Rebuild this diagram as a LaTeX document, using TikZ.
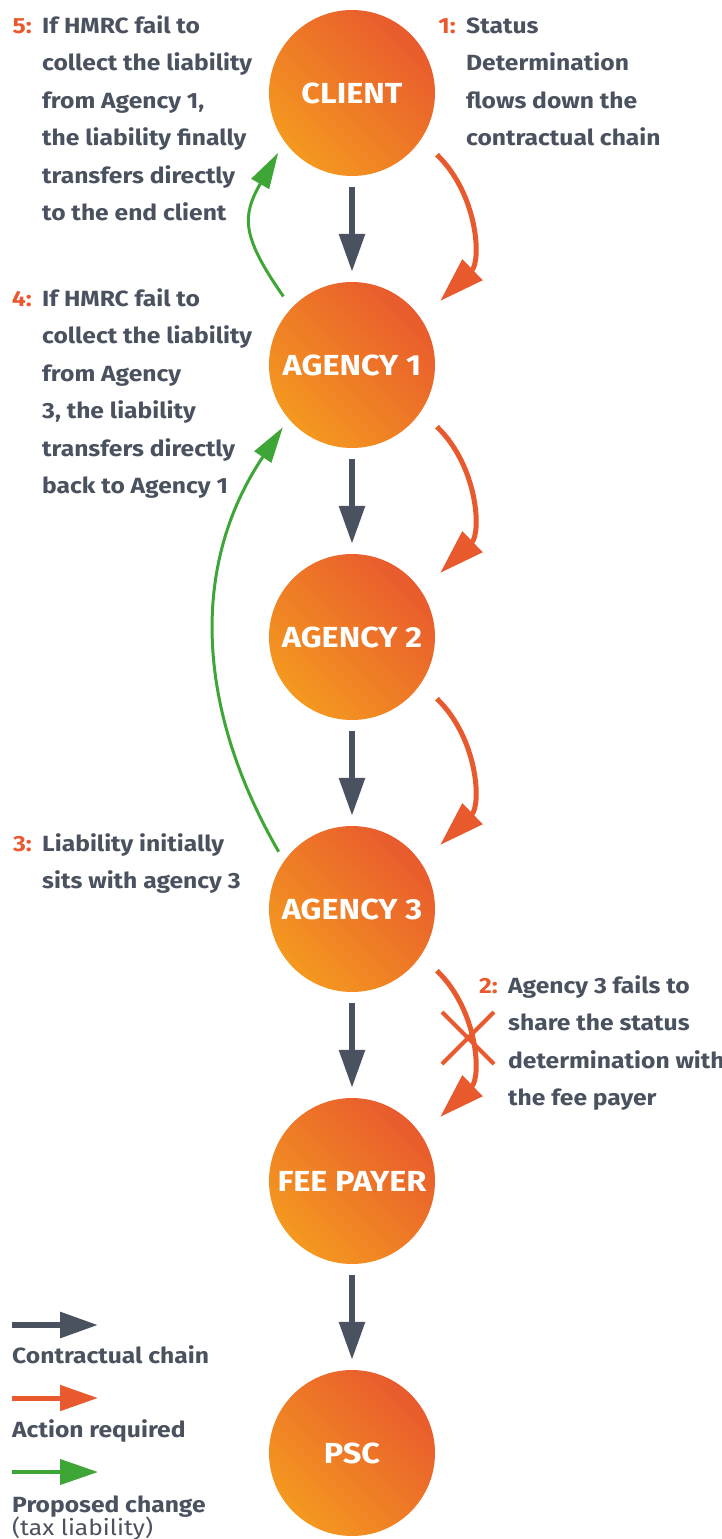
\documentclass[tikz,border=0pt]{standalone}
\usepackage{fontspec}
\setmainfont{Fira Sans}[FakeStretch=1.12]
\usetikzlibrary{arrows.meta,calc,shapes.misc}
\definecolor{hmorange}{RGB}{232,90,45}
\definecolor{hmyellow}{RGB}{244,152,32}
\definecolor{hmgrey}{RGB}{75,82,95}
\definecolor{hmgreen}{RGB}{62,165,55}

\begin{document}
\begin{tikzpicture}[x=1pt,y=1pt,
  party/.style={circle, minimum size=166pt, inner sep=0pt, left color=hmyellow, right color=hmorange, shading angle=135, text=white, font=\fontsize{29}{30}\selectfont\bfseries},
  chain/.style={draw=hmgrey, line width=6pt, -{Triangle[length=38pt,width=25pt]}, shorten <=11pt, shorten >=10pt},
  action/.style={draw=hmorange, line width=5pt, -{Triangle[length=45pt,width=28pt]}},
  liability/.style={draw=hmgreen, line width=3pt, -{Triangle[length=36pt,width=20pt]}},
  keyarrow/.style={-{Triangle[length=38pt,width=25pt]}},
  note/.style={anchor=north west, inner sep=0pt, align=left, text=hmgrey, font=\fontsize{22}{37.5}\selectfont\bfseries},
  notenum/.style={anchor=north east, inner sep=0pt, xshift=-10pt, text=hmorange, font=\fontsize{22}{37.5}\selectfont\bfseries},
  keytext/.style={anchor=base west, inner sep=0pt, text=hmgrey, font=\fontsize{22}{26}\selectfont\bfseries}
]
\useasboundingbox (0,0) rectangle (722,-1539);

% Parties in the chain
\node[party] (client) at (352,-93) {CLIENT};
\node[party] (agency1) at (352,-365) {AGENCY 1};
\node[party] (agency2) at (352,-637) {AGENCY 2};
\node[party] (agency3) at (352,-909) {AGENCY 3};
\node[party] (feepayer) at (352,-1181) {FEE PAYER};
\node[party] (psc) at (352,-1453) {PSC};

% Contractual chain
\draw[chain] (client) -- (agency1);
\draw[chain] (agency1) -- (agency2);
\draw[chain] (agency2) -- (agency3);
\draw[chain] (agency3) -- (feepayer);
\draw[chain] (feepayer) -- (psc);

% Status determination passed down
\draw[action] ($(client)+(-36:105)$) to[out=-44,in=44] ($(agency1)+(36:109)$);
\draw[action] ($(agency1)+(-36:105)$) to[out=-44,in=44] ($(agency2)+(36:109)$);
\draw[action] ($(agency2)+(-36:105)$) to[out=-44,in=44] ($(agency3)+(36:109)$);
\draw[action] ($(agency3)+(-36:105)$) to[out=-44,in=44] ($(feepayer)+(36:109)$);
\node[cross out, draw=hmorange, line width=4pt, minimum size=48pt, inner sep=0pt] (fail) at ($(agency3)+(116,-129)$) {};

% Liability moving back up
\draw[liability] ($(agency1)+(135:97)$) to[out=125,in=-120,looseness=1.3] ($(client)+(-141:95)$);
\draw[liability] ($(agency3)+(142:93)$) to[out=120,in=-124] ($(agency1)+(-138:93)$);

% Notes
\node[note] (t1) at (466,-7) {\strut Status\\Determination\\flows down the\\contractual chain};
\node[notenum] (n1) at (t1.north west) {\strut 1:};
\node[note] (t2) at (508,-967) {\strut Agency 3 fails to\\share the status\\determination with\\the fee payer};
\node[notenum] (n2) at (t2.north west) {\strut 2:};
\node[note] (t3) at (42,-825) {\strut Liability initially\\sits with agency 3};
\node[notenum] (n3) at (t3.north west) {\strut 3:};
\node[note] (t4) at (42,-280) {\strut If HMRC fail to\\collect the liability\\from Agency\\3, the liability\\transfers directly\\back to Agency 1};
\node[notenum] (n4) at (t4.north west) {\strut 4:};
\node[note] (t5) at (42,-7) {\strut If HMRC fail to\\collect the liability\\from Agency 1,\\the liability finally\\transfers directly\\to the end client};
\node[notenum] (n5) at (t5.north west) {\strut 5:};

% Key
\coordinate (k1a) at (12,-1325);
\coordinate (k1b) at (98,-1325);
\coordinate (k2a) at (12,-1398);
\coordinate (k2b) at (98,-1398);
\coordinate (k3a) at (12,-1472);
\coordinate (k3b) at (98,-1472);
\draw[hmgrey, line width=6pt, keyarrow] (k1a) -- (k1b);
\draw[hmorange, line width=5pt, keyarrow] (k2a) -- (k2b);
\draw[hmgreen, line width=4pt, keyarrow] (k3a) -- (k3b);
\node[keytext] (key1) at (12,-1363) {Contractual chain};
\node[keytext] (key2) at (12,-1437) {Action required};
\node[keytext] (key3) at (12,-1512) {Proposed change};
\node[keytext, font=\fontsize{22}{26}\selectfont] (key4) at (12,-1535) {(tax liability)};
\end{tikzpicture}
\end{document}
